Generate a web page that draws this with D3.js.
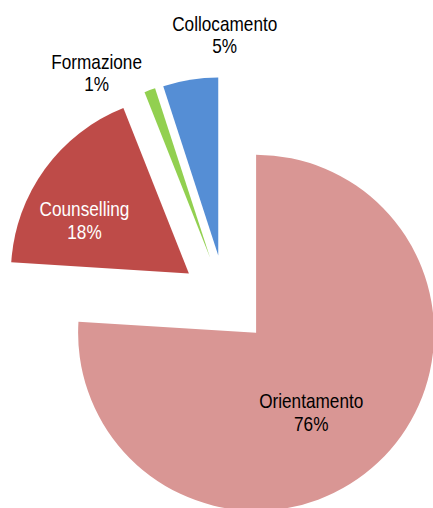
<!DOCTYPE html>
<html>
<head>
<meta charset="utf-8">
<script src="https://cdn.jsdelivr.net/npm/d3@7"></script>
<style>
  html, body { margin: 0; padding: 0; background: #fff; }
</style>
</head>
<body>
<svg id="chart"></svg>
<script>
const categories = ["Orientamento", "Counselling", "Formazione", "Collocamento"];
const values = [76, 18, 1, 5];
const colors = ["#D99694", "#BE4B48", "#92D050", "#558ED5"];
const textColors = ["#000", "#fff", "#000", "#000"];

const width = 433, height = 508;
const cx = 225.3, cy = 300;
const radius = 178;
const explode = 45;

const svg = d3.select("#chart")
    .attr("width", width)
    .attr("height", height)
    .attr("viewBox", [0, 0, width, height]);

const data = categories.map((c, i) => ({name: c, value: values[i], i: i}));

const pie = d3.pie()
    .sort(null)
    .value(d => d.value);

const arc = d3.arc()
    .innerRadius(0)
    .outerRadius(radius);

const arcs = pie(data);
const total = d3.sum(values);

// offset along the bisector of each slice
function shift(d, dist) {
    const a = (d.startAngle + d.endAngle) / 2;
    return [Math.sin(a) * dist, -Math.cos(a) * dist];
}

const g = svg.append("g")
    .attr("transform", "translate(" + cx + "," + cy + ")");

g.selectAll("path")
    .data(arcs)
    .join("path")
    .attr("d", arc)
    .attr("fill", d => colors[d.data.i])
    .attr("transform", d => "translate(" + shift(d, explode) + ")");

// label nudges (Excel best-fit placement)
const nudge = {
    Orientamento: [-18, 9],
    Counselling: [-18, 17],
    Formazione: [-43, 18],
    Collocamento: [39, -8]
};
const inside = {Orientamento: true, Counselling: true};

const labels = g.selectAll("g.lbl")
    .data(arcs)
    .join("g")
    .attr("class", "lbl")
    .attr("transform", d => {
        const r = inside[d.data.name] ? radius * 0.6 : radius + 30;
        const p = shift(d, explode + r);
        const n = nudge[d.data.name];
        return "translate(" + (p[0] + n[0]) + "," + (p[1] + n[1]) + ") scale(0.86,1)";
    });

labels.append("text")
    .attr("text-anchor", "middle")
    .attr("font-family", "Liberation Sans, Arial, sans-serif")
    .attr("font-size", 20)
    .attr("fill", d => textColors[d.data.i])
    .selectAll("tspan")
    .data(d => [d.data.name, Math.round(d.data.value / total * 100) + "%"])
    .join("tspan")
    .attr("x", 0)
    .attr("y", (t, j) => j === 0 ? -11.3 : 11.3)
    .text(t => t);
</script>
</body>
</html>
